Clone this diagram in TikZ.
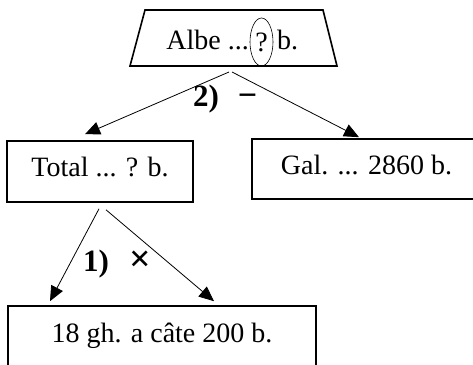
\documentclass[tikz,border=0pt]{standalone}
\usepackage{fontspec}
\setmainfont{Liberation Serif}
\usetikzlibrary{arrows.meta,shapes.geometric}
\begin{document}
\begin{tikzpicture}[x=1pt,y=1pt,
  box/.style={draw, line width=1.6pt, inner sep=0pt, text height=12pt, text depth=1pt, font=\fontsize{28}{30}\selectfont},
  txt/.style={font=\fontsize{28}{30}\selectfont, inner sep=0pt},
  lbl/.style={font=\bfseries\fontsize{31}{34}\selectfont, inner sep=0pt},
  arr/.style={-{Triangle[length=15pt,width=13pt]}, line width=0.8pt},
]
\useasboundingbox (0,0) rectangle (473,364);
% top trapezium
\draw[line width=1.6pt] (145,354) coordinate (tl) -- (323,354) coordinate (tr)
  -- (337,298) coordinate (br) -- (130,298) coordinate (bl) -- cycle;
\coordinate (top) at (231,298);
\node[draw, ellipse, line width=0.6pt, minimum width=23pt, minimum height=48pt, inner sep=0pt, txt] (q) at (261.5,322) {?};
\node[txt, anchor=base east] (albe) at (249,314) {Albe ...};
\node[txt, anchor=base west] (bdot) at (277,314) {b.};
% boxes
\node[box, minimum width=186pt, minimum height=61pt] (tot) at (100,192.5) {Total ... ? b.};
\node[box, minimum width=229pt, minimum height=60pt] (gal) at (366.5,195) {Gal. ... 2860 b.};
\node[box, minimum width=308pt, minimum height=61pt] (jos) at (162,27.5) {18 gh. a câte 200 b.};
% arrows
\draw[arr] ([xshift=-2pt,yshift=-6pt]top) -- ([xshift=-15pt,yshift=6pt]tot.north);
\draw[arr] ([xshift=1pt,yshift=-6pt]top) -- ([xshift=-7.5pt,yshift=1pt]gal.north);
\draw[arr] ([xshift=-1pt,yshift=-6pt]tot.south) -- ([xshift=-112pt,yshift=4pt]jos.north);
\draw[arr] ([xshift=6pt,yshift=-7pt]tot.south) -- ([xshift=52pt,yshift=4pt]jos.north);
% labels
\node[lbl, anchor=base] (l2) at (206,257) {2)};
\node[lbl, font=\bfseries\fontsize{34}{36}\selectfont] (m) at (247.5,264) {−};
\node[lbl, anchor=base] (l1) at (96,93) {1)};
\node[lbl, font=\bfseries\fontsize{38}{40}\selectfont] (x) at (140.5,103) {×};
\end{tikzpicture}
\end{document}
